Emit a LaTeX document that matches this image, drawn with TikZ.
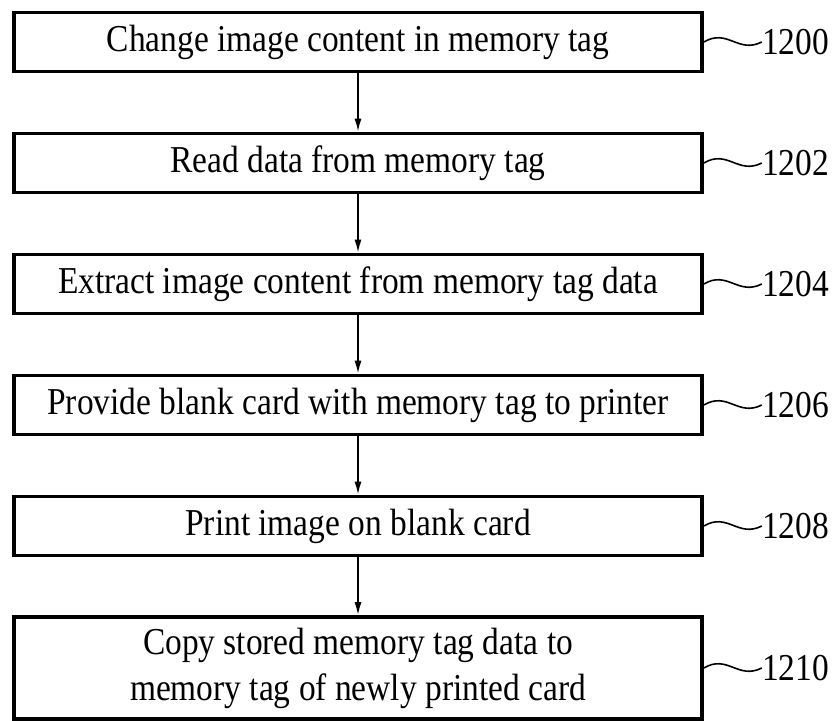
\documentclass[tikz,border=0pt]{standalone}
\usepackage{fontspec}
\setmainfont{Liberation Serif}[FakeStretch=0.88]
\usetikzlibrary{positioning,arrows.meta}
\tikzset{
  paso/.style={rectangle, draw=black, line width=3.6pt, minimum width=688pt,
    minimum height=59pt, align=center, inner sep=0pt,
    font=\fontsize{38}{46}\selectfont},
  flechaPaso/.style={-{Latex[length=13pt,width=7pt]}, line width=1.8pt},
  guia/.style={line width=1.6pt},
  numero/.style={right=58pt of #1, anchor=west, inner sep=0pt,
    font=\fontsize{38}{46}\selectfont},
}

\begin{document}
\begin{tikzpicture}[x=1pt, y=-1pt]
    \useasboundingbox (0,0) rectangle (834,720);
    \node[paso] (p1200) at (358,42)  {Change image content in memory tag};
    \node[paso] (p1202) at (358,163) {Read data from memory tag};
    \node[paso] (p1204) at (358,284) {Extract image content from memory tag data};
    \node[paso] (p1206) at (358,405) {Provide blank card with memory tag to printer};
    \node[paso] (p1208) at (358,526) {Print image on blank card};
    \node[paso, minimum height=102pt] (p1210) at (358,668)
      {Copy stored memory tag data to\\memory tag of newly printed card};
    \foreach \a/\b in {p1200/p1202,p1202/p1204,p1204/p1206,p1206/p1208,p1208/p1210}{
      \draw[flechaPaso] (\a.south) -- (\b.north);}
    % numeros de referencia
    \foreach \n in {1200,1202,1204,1206,1208,1210}{
      \node[numero=p\n] (r\n) {\n};
      \draw[guia] (p\n.east) .. controls +(24,-14) and +(-24,12) .. (r\n.west);}
  \end{tikzpicture}
\end{document}
